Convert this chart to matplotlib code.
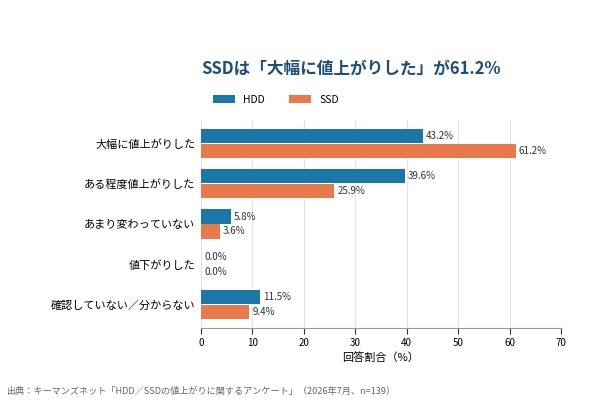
import matplotlib.pyplot as plt
import numpy as np

plt.rcParams['font.family'] = ['Noto Sans CJK JP', 'DejaVu Sans']

categories = ["大幅に値上がりした", "ある程度値上がりした", "あまり変わっていない",
              "値下がりした", "確認していない／分からない"]
hdd = [43.2, 39.6, 5.8, 0.0, 11.5]
ssd = [61.2, 25.9, 3.6, 0.0, 9.4]
xticks = [0, 10, 20, 30, 40, 50, 60, 70]

hdd_color = "#1b77a8"
ssd_color = "#e8794a"

fig = plt.figure(figsize=(5.9, 4.0), dpi=100)
ax = fig.add_axes([0.3407, 0.18, 0.6101, 0.52])

y = np.arange(len(categories))
h = 0.35
b1 = ax.barh(y - h / 2 - 0.01, hdd, height=h, color=hdd_color, label="HDD", zorder=3)
b2 = ax.barh(y + h / 2 + 0.01, ssd, height=h, color=ssd_color, label="SSD", zorder=3)

for bars, vals in ((b1, hdd), (b2, ssd)):
    for bar, v in zip(bars, vals):
        ax.text(v + 0.6, bar.get_y() + bar.get_height() / 2, f"{v:.1f}%",
                va="center", ha="left", fontsize=7, color="#333333")

ax.set_xlim(0, 70)
ax.set_ylim(4.58, -0.58)
ax.set_xticks(xticks)
ax.set_xticklabels([str(t) for t in xticks], fontsize=7)
ax.set_yticks(y)
ax.set_yticklabels(categories, fontsize=8)
ax.tick_params(axis="y", length=0, pad=4)
ax.tick_params(axis="x", length=4, color="#333333", pad=3)
ax.xaxis.grid(True, color="#e3e3e3", linewidth=0.8, zorder=0)
for s in ("top", "right", "left"):
    ax.spines[s].set_visible(False)
ax.spines["bottom"].set_color("#999999")
ax.set_xlabel("回答割合（%）", fontsize=8, labelpad=3)

fig.text(0.3407, 0.828, "SSDは「大幅に値上がりした」が61.2%", fontsize=12,
         fontweight="bold", color="#1f4e79", va="center", ha="left")
fig.legend(handles=[b1, b2], loc="center left", bbox_to_anchor=(0.345, 0.75),
           ncol=2, frameon=False, fontsize=7.5, handlelength=2.1, handleheight=0.8,
           columnspacing=2.3, handletextpad=0.8)
fig.text(0.012, 0.022, "出典：キーマンズネット「HDD／SSDの値上がりに関するアンケート」（2026年7月、n=139）",
         fontsize=6.6, color="#666666", ha="left", va="center")

fig.savefig("out.png", dpi=100)
